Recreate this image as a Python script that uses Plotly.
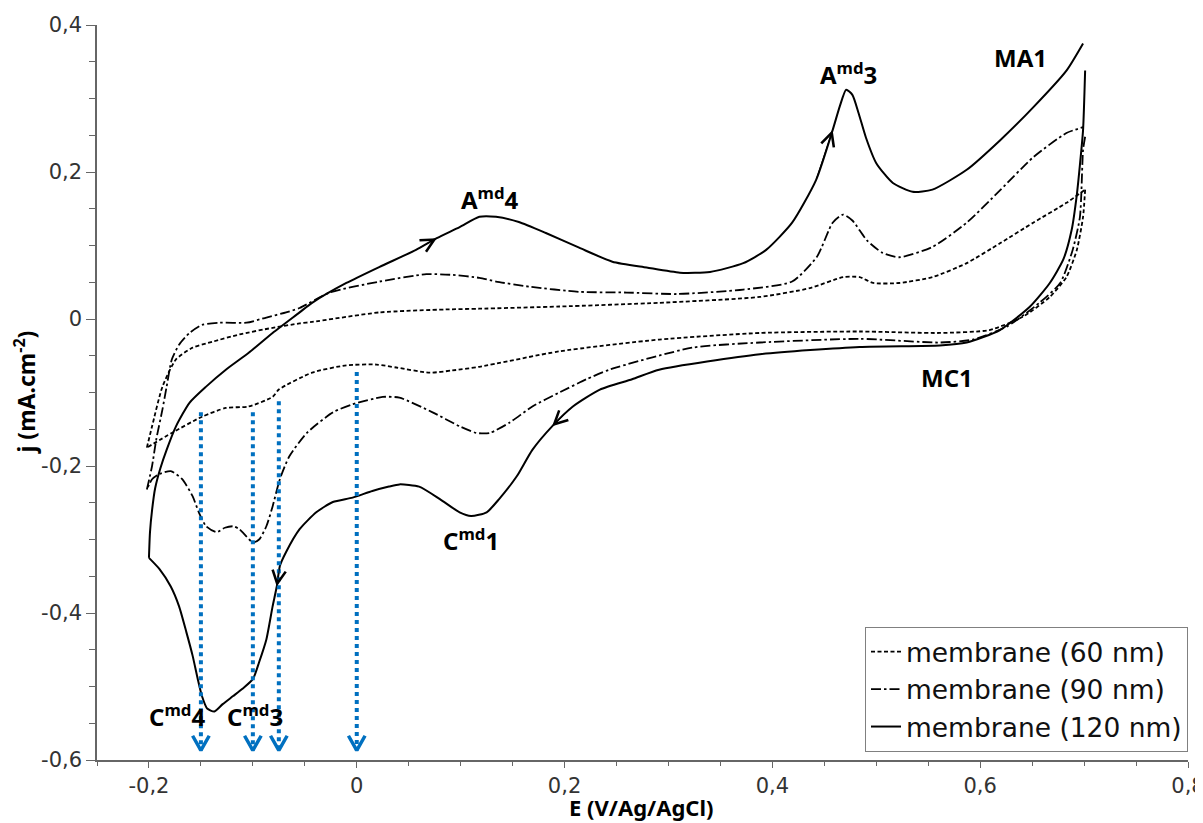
import plotly.graph_objects as go

# ---------------- data ----------------
# membrane 120 nm (solid): anodic (forward) and cathodic (backward) branches
m120_up_x = [-0.200, -0.199, -0.197, -0.194, -0.189, -0.183, -0.174, -0.161, -0.145, -0.126, -0.104,
             -0.081, -0.055, -0.043, -0.010, 0.022, 0.057, 0.077, 0.099, 0.118, 0.134, 0.156, 0.182,
             0.214, 0.246, 0.279, 0.311, 0.340, 0.372, 0.394, 0.419, 0.442, 0.458, 0.465, 0.471, 0.477,
             0.483, 0.490, 0.500, 0.516, 0.535, 0.554, 0.587, 0.619, 0.651, 0.683, 0.699]
m120_up_y = [-0.325, -0.290, -0.260, -0.230, -0.203, -0.178, -0.146, -0.114, -0.092, -0.069, -0.046,
             -0.019, 0.009, 0.022, 0.049, 0.071, 0.094, 0.110, 0.125, 0.139, 0.139, 0.132, 0.117,
             0.097, 0.078, 0.070, 0.063, 0.064, 0.076, 0.094, 0.131, 0.189, 0.257, 0.290, 0.312, 0.305,
             0.280, 0.247, 0.212, 0.185, 0.173, 0.176, 0.203, 0.243, 0.288, 0.338, 0.375]
m120_dn_x = [0.701, 0.699, 0.696, 0.693, 0.688, 0.680, 0.667, 0.648, 0.619, 0.587, 0.561, 0.484, 0.388,
             0.291, 0.265, 0.234, 0.208, 0.188, 0.169, 0.154, 0.137, 0.125, 0.110, 0.099, 0.080, 0.060,
             0.041, 0.031, 0.015, -0.004, -0.023, -0.039, -0.055, -0.068, -0.074, -0.077, -0.081, -0.087,
             -0.094, -0.100, -0.110, -0.119, -0.129, -0.137, -0.144, -0.149, -0.153, -0.158, -0.164,
             -0.171, -0.179, -0.190, -0.200]
m120_dn_y = [0.338, 0.257, 0.210, 0.169, 0.121, 0.081, 0.049, 0.017, -0.015, -0.032, -0.036, -0.038, -0.048,
             -0.069, -0.082, -0.096, -0.119, -0.146, -0.178, -0.214, -0.245, -0.263, -0.268, -0.263, -0.245,
             -0.228, -0.225, -0.228, -0.234, -0.243, -0.249, -0.263, -0.286, -0.317, -0.336, -0.364, -0.391,
             -0.436, -0.467, -0.490, -0.503, -0.513, -0.524, -0.534, -0.530, -0.513, -0.490, -0.458, -0.426,
             -0.391, -0.364, -0.340, -0.325]

# membrane 90 nm (dash-dot)
m90_up_x = [-0.202, -0.197, -0.193, -0.187, -0.183, -0.178, -0.171, -0.161, -0.149, -0.132, -0.106, -0.087,
            -0.068, -0.055, -0.026, 0.022, 0.067, 0.092, 0.118, 0.134, 0.166, 0.214, 0.260, 0.308, 0.372,
            0.419, 0.443, 0.458, 0.468, 0.477, 0.491, 0.506, 0.522, 0.554, 0.587, 0.619, 0.651, 0.683, 0.699]
m90_up_y = [-0.232, -0.200, -0.164, -0.123, -0.092, -0.055, -0.035, -0.019, -0.008, -0.005, -0.005, 0.002,
            0.009, 0.015, 0.036, 0.051, 0.061, 0.060, 0.056, 0.051, 0.044, 0.037, 0.036, 0.034, 0.040,
            0.051, 0.085, 0.131, 0.142, 0.134, 0.107, 0.090, 0.084, 0.098, 0.131, 0.175, 0.220, 0.253, 0.261]
m90_dn_x = [0.701, 0.699, 0.696, 0.689, 0.677, 0.657, 0.626, 0.593, 0.561, 0.484, 0.388, 0.323, 0.243,
            0.221, 0.195, 0.169, 0.147, 0.128, 0.115, 0.099, 0.073, 0.041, 0.025, -0.004, -0.023, -0.048,
            -0.065, -0.074, -0.081, -0.087, -0.094, -0.100, -0.106, -0.113, -0.119, -0.127, -0.135, -0.145,
            -0.152, -0.158, -0.168, -0.179, -0.190, -0.197, -0.202]
m90_dn_y = [0.248, 0.230, 0.139, 0.094, 0.049, 0.022, -0.010, -0.028, -0.032, -0.027, -0.032, -0.039, -0.069,
            -0.082, -0.100, -0.119, -0.141, -0.155, -0.155, -0.146, -0.127, -0.107, -0.106, -0.116, -0.127,
            -0.155, -0.187, -0.218, -0.255, -0.282, -0.300, -0.304, -0.296, -0.286, -0.282, -0.284, -0.290,
            -0.282, -0.263, -0.241, -0.218, -0.207, -0.211, -0.218, -0.232]

# membrane 60 nm (dotted)
m60_up_x = [-0.202, -0.197, -0.187, -0.174, -0.158, -0.139, -0.113, -0.081, -0.055, -0.043, 0.022, 0.086,
            0.118, 0.195, 0.291, 0.388, 0.436, 0.468, 0.484, 0.497, 0.522, 0.554, 0.587, 0.619, 0.651,
            0.683, 0.701]
m60_up_y = [-0.175, -0.146, -0.092, -0.055, -0.039, -0.031, -0.021, -0.012, -0.006, -0.004, 0.009, 0.013,
            0.014, 0.017, 0.022, 0.030, 0.042, 0.057, 0.057, 0.049, 0.049, 0.057, 0.076, 0.103, 0.131,
            0.158, 0.176]
m60_dn_x = [0.701, 0.699, 0.693, 0.683, 0.667, 0.641, 0.609, 0.561, 0.484, 0.388, 0.291, 0.195, 0.118,
            0.092, 0.070, 0.038, 0.019, -0.010, -0.043, -0.075, -0.081, -0.104, -0.126, -0.149, -0.178,
            -0.202]
m60_dn_y = [0.176, 0.139, 0.094, 0.057, 0.030, 0.003, -0.015, -0.019, -0.017, -0.019, -0.028, -0.044,
            -0.065, -0.070, -0.073, -0.066, -0.062, -0.063, -0.073, -0.096, -0.106, -0.119, -0.121, -0.133,
            -0.155, -0.175]

series_names = ["membrane (60 nm)", "membrane (90 nm)", "membrane (120 nm)"]

# blue dotted arrows (potential markers)
arrow_x = [-0.15, -0.10, -0.075, 0.0]
arrow_top = [-0.127, -0.127, -0.112, -0.072]
arrow_tip = -0.587

# peak labels
peak_labels = ["A<sup>md</sup>4", "A<sup>md</sup>3", "MA1", "MC1", "C<sup>md</sup>1", "C<sup>md</sup>4", "C<sup>md</sup>3"]
peak_x = [0.128, 0.473, 0.639, 0.568, 0.110, -0.173, -0.098]
peak_y = [0.164, 0.334, 0.356, -0.080, -0.300, -0.540, -0.540]

# scan-direction markers on the 120 nm curve: (branch, x of marker)
dir_marks = [("up", 0.077), ("up", 0.458), ("dn", 0.188), ("dn", -0.077)]

x_ticks = [-0.2, 0.0, 0.2, 0.4, 0.6, 0.8]
x_ticktext = ["-0,2", "0", "0,2", "0,4", "0,6", "0,8"]
y_ticks = [-0.6, -0.4, -0.2, 0.0, 0.2, 0.4]
y_ticktext = ["-0,6", "-0,4", "-0,2", "0", "0,2", "0,4"]

# ---------------- figure ----------------
BLUE = "#0070C0"
fig = go.Figure()

curves = [
    (m60_up_x, m60_up_y, m60_dn_x, m60_dn_y, "4px,2.5px", 1.8),
    (m90_up_x, m90_up_y, m90_dn_x, m90_dn_y, "10px,3px,2.5px,3px", 1.8),
    (m120_up_x, m120_up_y, m120_dn_x, m120_dn_y, "solid", 2.0),
]
for name, (ux, uy, dx_, dy_, dash, w) in zip(series_names, curves):
    fig.add_trace(go.Scatter(
        x=list(ux) + [None] + list(dx_), y=list(uy) + [None] + list(dy_),
        mode="lines", name=name,
        line=dict(color="black", width=w, dash=dash, shape="spline", smoothing=0.6),
        hoverinfo="skip"))

# blue dotted arrows
for ax_, at in zip(arrow_x, arrow_top):
    fig.add_trace(go.Scatter(x=[ax_, ax_], y=[at, arrow_tip], mode="lines",
                             line=dict(color=BLUE, width=4, dash="4px,4px"),
                             showlegend=False, hoverinfo="skip"))
# chevron heads
hx, hy = [], []
cdx, cdy = 0.0080, 0.020
for ax_ in arrow_x:
    hx += [ax_ - cdx, ax_, ax_ + cdx, None]
    hy += [arrow_tip + cdy, arrow_tip, arrow_tip + cdy, None]
fig.add_trace(go.Scatter(x=hx, y=hy, mode="lines", line=dict(color=BLUE, width=3.5),
                         showlegend=False, hoverinfo="skip"))

annotations = []
# scan direction markers
for branch, xm in dir_marks:
    bx = m120_up_x if branch == "up" else m120_dn_x
    by = m120_up_y if branch == "up" else m120_dn_y
    k = min(range(1, len(bx)), key=lambda i: abs(bx[i] - xm))
    annotations.append(dict(x=bx[k], y=by[k], ax=bx[k - 1], ay=by[k - 1], xref="x", yref="y",
                            axref="x", ayref="y", showarrow=True, arrowhead=5, arrowsize=2.6,
                            arrowwidth=1, arrowcolor="black", standoff=0, text=""))

# peak labels
for t, xx, yy in zip(peak_labels, peak_x, peak_y):
    annotations.append(dict(x=xx, y=yy, xref="x", yref="y", text="<b>" + t + "</b>", showarrow=False,
                            xanchor="center", yanchor="middle",
                            font=dict(family="Noto Sans", size=24, color="black")))

# axis titles
annotations.append(dict(x=0.4986, y=-0.064, xref="paper", yref="paper", showarrow=False,
                        xanchor="center", yanchor="middle",
                        text="<b>E (V/Ag/AgCl)</b>", font=dict(family="Noto Sans", size=22, color="black")))
annotations.append(dict(x=-0.066, y=0.50, xref="paper", yref="paper", showarrow=False, textangle=-90,
                        xanchor="center", yanchor="middle",
                        text="<b>j (mA.cm<sup>-2</sup>)</b>", font=dict(family="Noto Sans", size=23, color="black")))

axis_common = dict(showgrid=False, zeroline=False, showline=True, linecolor="#666", linewidth=1.5,
                   ticks="outside", tickcolor="#666", tickwidth=1.2, automargin=False,
                   ticklabeloverflow="allow",
                   tickfont=dict(family="DejaVu Sans", size=21, color="#333"))

# the page adds an 8 px body margin, so the figure is sized to fit the 1203x823 window
fig.update_layout(
    width=1195, height=815,
    margin=dict(l=89, r=15, t=17, b=63),
    plot_bgcolor="white", paper_bgcolor="white",
    xaxis=dict(range=[-0.25, 0.8], tickmode="array", tickvals=x_ticks, ticktext=x_ticktext, ticklen=6,
               minor=dict(ticks="outside", ticklen=4, tickmode="linear", tick0=0, dtick=0.05,
                          tickcolor="#666"), **axis_common),
    yaxis=dict(range=[-0.6, 0.4], tickmode="array", tickvals=y_ticks, ticktext=y_ticktext, ticklen=9,
               minor=dict(ticks="outside", ticklen=6, tickmode="linear", tick0=0, dtick=0.05,
                          tickcolor="#666"), **axis_common),
    legend=dict(x=1.0, xanchor="right", y=0.011, yanchor="bottom", bgcolor="white",
                bordercolor="#808080", borderwidth=1, itemwidth=30,
                font=dict(family="DejaVu Sans", size=26.5, color="#111")),
    annotations=annotations,
)

fig.write_html("out.html")
